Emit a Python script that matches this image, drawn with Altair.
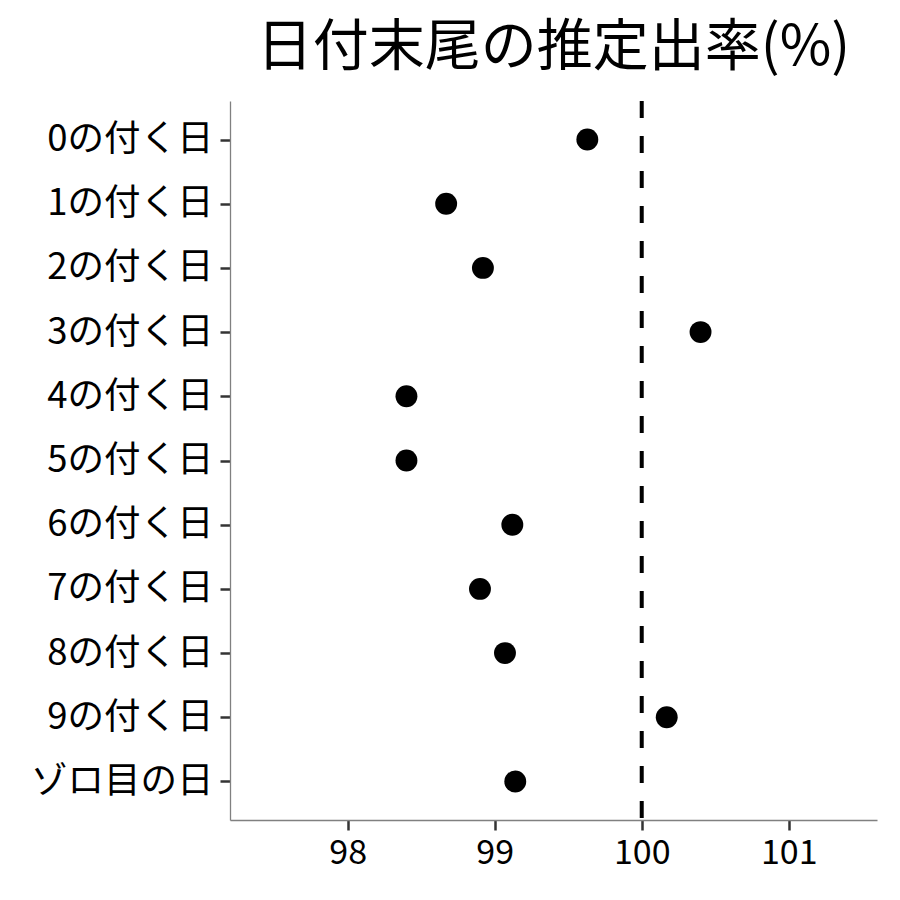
import altair as alt
import pandas as pd

categories = ["0の付く日", "1の付く日", "2の付く日", "3の付く日", "4の付く日",
              "5の付く日", "6の付く日", "7の付く日", "8の付く日", "9の付く日", "ゾロ目の日"]
values = [99.63, 98.67, 98.92, 100.40, 98.40, 98.40, 99.12, 98.90, 99.07, 100.17, 99.14]
ref_value = [100]
x_ticks = [98, 99, 100, 101]

df = pd.DataFrame({"cat": categories, "val": values})
ref = pd.DataFrame({"v": ref_value})

FONT = "Noto Sans CJK JP"

xscale = alt.Scale(domain=[97.2, 101.6], nice=False, zero=False)

points = alt.Chart(df).mark_circle(size=480, opacity=1, color="black").encode(
    x=alt.X("val:Q", scale=xscale,
            axis=alt.Axis(values=x_ticks, format="d", title=None, grid=False, labelFontSize=34,
                          labelColor="black", labelFont=FONT, tickColor="#333333",
                          tickWidth=2.5, tickSize=10, domainColor="#808080",
                          domainWidth=1.3, labelPadding=6, labelFlush=False)),
    y=alt.Y("cat:N", sort=categories,
            scale=alt.Scale(type="point", padding=0.6),
            axis=alt.Axis(title=None, grid=False, labelFontSize=36.5, labelColor="black",
                          labelFont=FONT, labelLimit=0, tickColor="#333333", tickWidth=2.5,
                          tickSize=10, domainColor="#808080", domainWidth=1.3, labelPadding=7)),
)

rule = alt.Chart(ref).mark_rule(color="black", strokeWidth=4, strokeDash=[17, 18]).encode(
    x=alt.X("v:Q", scale=xscale)
)

chart = alt.layer(rule, points).properties(
    width=647,
    height=719,
    background="white",
    title=alt.TitleParams("日付末尾の推定出率(%)", font=FONT, fontSize=56,
                          fontWeight="normal", color="black", anchor="middle",
                          frame="group", offset=22),
    autosize=alt.AutoSizeParams(type="none"),
    padding={"left": 222, "top": 93, "right": 10, "bottom": 70},
).configure_view(stroke=None, strokeWidth=0)

chart.save("out.html", embed_options={"renderer": "svg", "actions": False})
